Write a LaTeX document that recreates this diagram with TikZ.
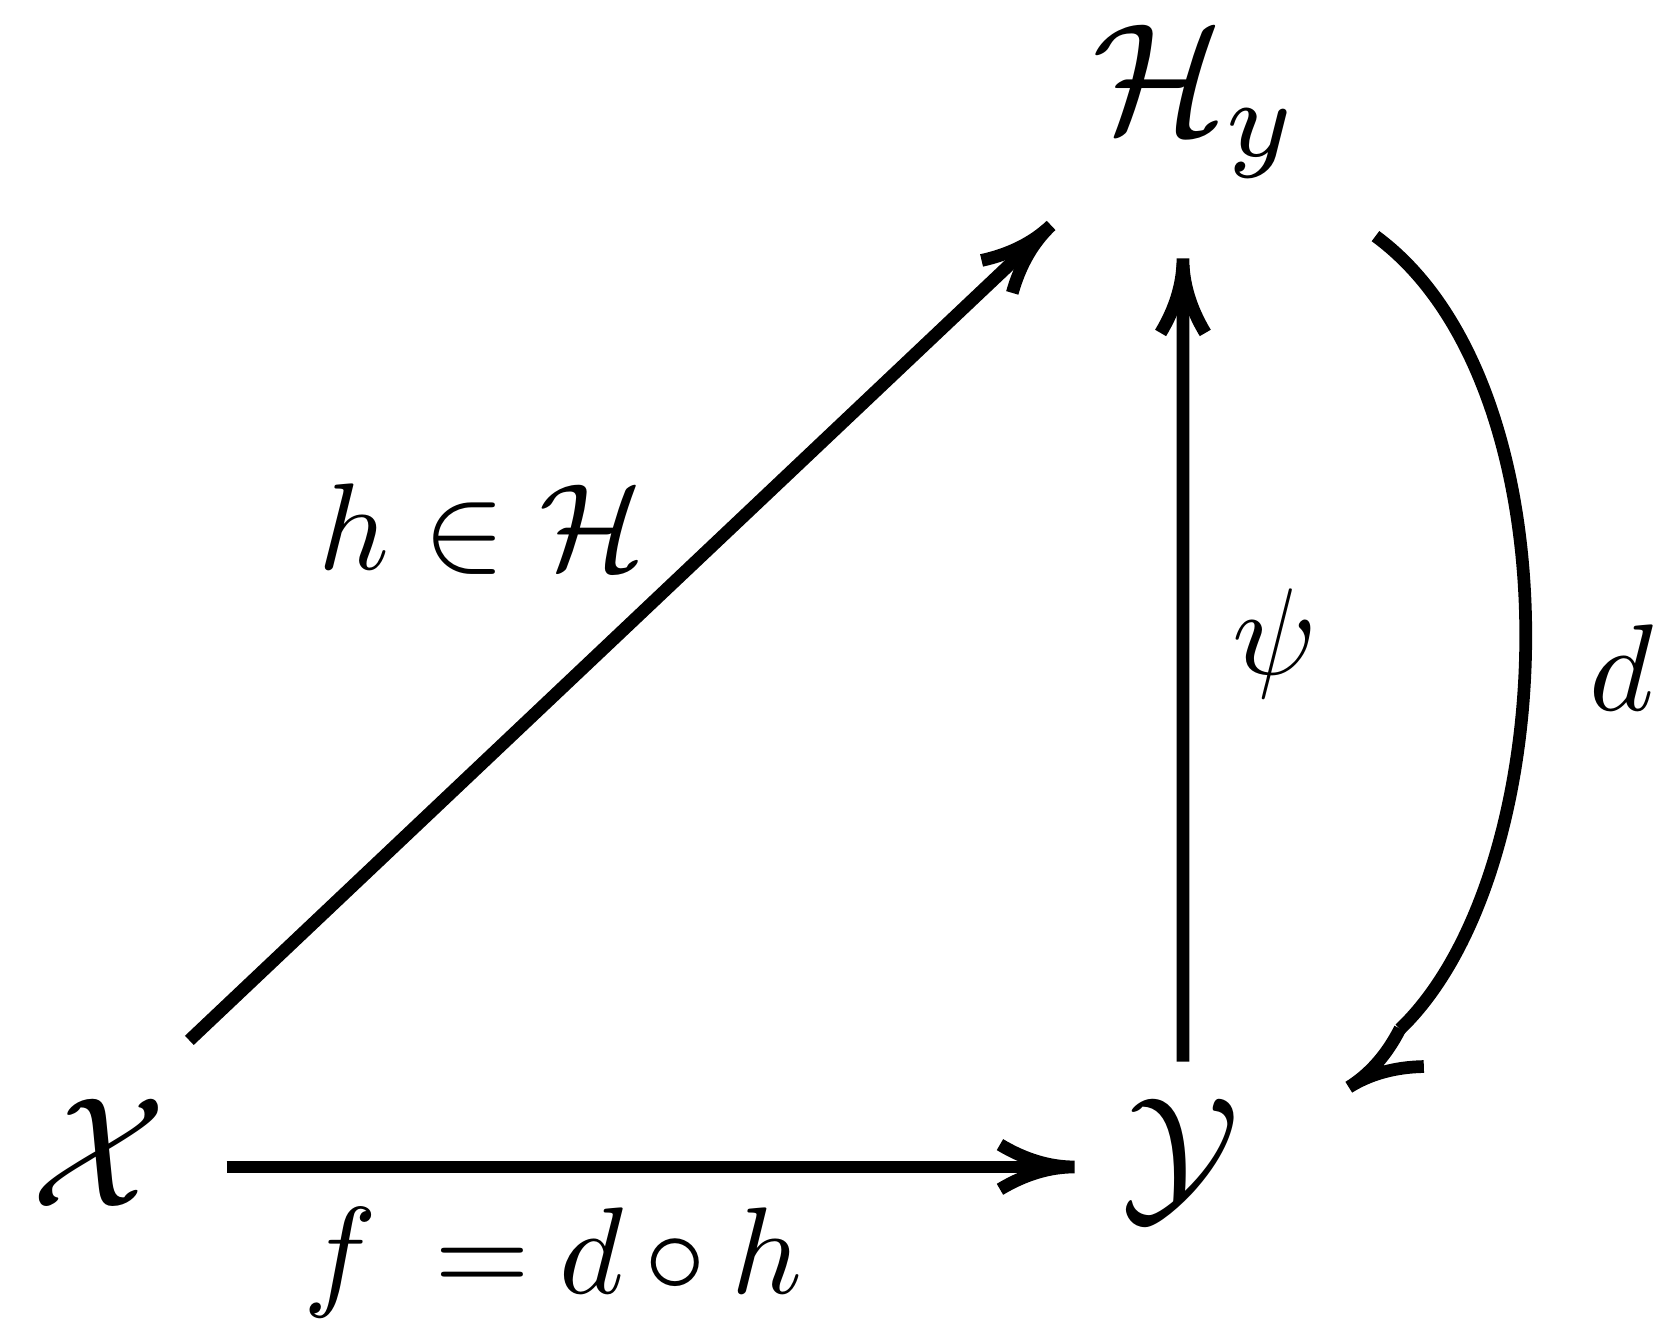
\documentclass[tikz,border=0pt]{standalone}
\usetikzlibrary{arrows.meta}
\pgfdeclarearrow{
  name = CurvedBarb,
  parameters = {\the\pgfarrowlength,\the\pgfarrowwidth},
  setup code = {
    \pgfarrowssettipend{0pt}
    \pgfarrowssetlineend{-0.5\pgflinewidth}
    \pgfarrowssetvisualbackend{-\pgfarrowlength}
    \pgfarrowssetbackend{-\pgfarrowlength}
    \pgfarrowshullpoint{0pt}{0pt}
    \pgfarrowshullpoint{-\pgfarrowlength}{.5\pgfarrowwidth}
    \pgfarrowshullpoint{-\pgfarrowlength}{-.5\pgfarrowwidth}
    \pgfarrowssavethe\pgfarrowlength
    \pgfarrowssavethe\pgfarrowwidth
  },
  drawing code = {
    \pgfsetdash{}{0pt}
    \pgfsetbuttcap
    \pgfsetmiterjoin
    \pgfpathmoveto{\pgfpoint{-\pgfarrowlength}{.5\pgfarrowwidth}}
    \pgfpathquadraticcurveto{\pgfpoint{-.5\pgfarrowlength}{0pt}}{\pgfpointorigin}
    \pgfpathquadraticcurveto{\pgfpoint{-.5\pgfarrowlength}{0pt}}{\pgfpoint{-\pgfarrowlength}{-.5\pgfarrowwidth}}
    \pgfusepathqstroke
  },
  defaults = {length=7mm,width=4.2mm}
}
\begin{document}
\begin{tikzpicture}[x=1cm,y=1cm,
  lw/.style={line width=3.4pt},
  arr/.style={lw,-{CurvedBarb[length=7mm,width=4.2mm]}},
  headonly/.style={lw,draw=white,-{CurvedBarb[length=7mm,width=4.2mm,color=black]}},
  obj/.style={anchor=base,inner sep=0pt,scale=4.2},
  lab/.style={anchor=base,inner sep=0pt,scale=3.3}]
\useasboundingbox (0,0) rectangle (15.68,12.615);
\node[obj] (X) at (0.93,1.27) {$\mathcal{X}$};
\node[obj] (Y) at (11.10,1.27) {$\mathcal{Y}$};
\node[obj] (Hy) at (11.25,11.365) {$\mathcal{H}_y$};
\draw[arr] ([shift={(0.85,1.565)}]X.base) -- ([shift={(-1.37,-0.87)}]Hy.base);
\draw[arr] ([shift={(1.20,0.375)}]X.base) -- ([shift={(-1.00,0.375)}]Y.base);
\draw[arr] ([shift={(0.02,1.365)}]Y.base) -- ([shift={(-0.13,-1.18)}]Hy.base);
% curved arrow d: shaft, then its head
\draw[lw] ([shift={(1.68,-0.97)}]Hy.base) .. controls (14.85,8.985) and (14.70,4.415) .. ([shift={(2.06,1.67)}]Y.base);
\draw[headonly] ([shift={(2.17,1.495)}]Y.base) -- ([shift={(1.58,1.125)}]Y.base);
\node[lab] (lh) at (4.53,7.265) {$h\in\mathcal{H}$};
\node[lab] (lf) at (5.20,0.455) {$f\mskip8.4mu{=}\mskip4.2mu d\mskip3.1mu{\circ}\mskip3.7mu h$};
\node[lab] (lpsi) at (11.98,6.275) {$\psi$};
\node[lab] (ld) at (15.24,5.935) {$d$};
\end{tikzpicture}
\end{document}
